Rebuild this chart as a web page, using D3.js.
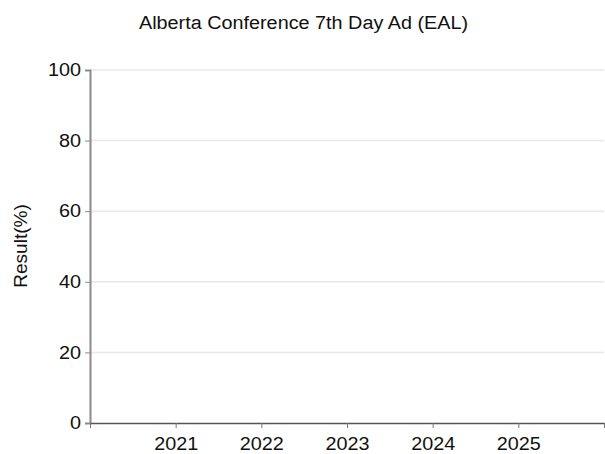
<!DOCTYPE html>
<html><head><meta charset="utf-8">
<script src="https://cdn.jsdelivr.net/npm/d3@7"></script>
<style>body{margin:0;background:#fff;font-family:"Liberation Sans",Arial,sans-serif;}</style>
</head><body><svg id="c" width="605" height="454"></svg>
<script>
const title = "Alberta Conference 7th Day Ad (EAL)";
const yLabel = "Result(%)";
const xDomain = [2020, 2026];
const xTicks = [2020, 2021, 2022, 2023, 2024, 2025, 2026];
const xTickLabels = ["", "2021", "2022", "2023", "2024", "2025", ""];
const yTicks = [0, 20, 40, 60, 80, 100];
const years = [];
const values = [];

const svg = d3.select("#c");
const m = {l: 90, r: 1, t: 70, b: 31};
const W = 605, H = 454;
const FS = 18, STRETCH = 1.1;
const x = d3.scaleLinear().domain(xDomain).range([m.l, W - m.r]);
const y = d3.scaleLinear().domain([0, 100]).range([H - m.b, m.t]);

function stretch(sel, k) {
  sel.each(function() {
    const t = this;
    if (!t.textContent) return;
    const L = t.getComputedTextLength();
    d3.select(t).attr("textLength", L * k).attr("lengthAdjust", "spacingAndGlyphs");
  });
}

// grid
svg.append("g").selectAll("line").data(yTicks.filter(d => d > 0)).join("line")
  .attr("x1", m.l).attr("x2", W - m.r)
  .attr("y1", d => y(d)).attr("y2", d => y(d))
  .attr("stroke", "#e8e8e8").attr("stroke-width", 1.5);

// y axis
const ya = svg.append("g").attr("transform", `translate(${m.l},0)`)
  .call(d3.axisLeft(y).tickValues(yTicks).tickSize(5).tickPadding(4));
ya.select(".domain").attr("stroke", "#8a8a8a").attr("stroke-width", 2);
ya.selectAll(".tick line").attr("stroke", "#8a8a8a");
ya.selectAll("text").attr("font-size", FS).attr("fill", "#111").attr("font-family", "Liberation Sans, Arial");
stretch(ya.selectAll("text"), STRETCH);

// x axis
const xa = svg.append("g").attr("transform", `translate(0,${y(0)})`)
  .call(d3.axisBottom(x).tickValues(xTicks).tickFormat((d, i) => xTickLabels[i]).tickSize(5).tickPadding(9).tickSizeOuter(0));
xa.select(".domain").attr("stroke", "#555").attr("stroke-width", 1.5);
xa.selectAll(".tick line").attr("stroke", "#777");
xa.selectAll("text").attr("font-size", FS).attr("fill", "#111").attr("font-family", "Liberation Sans, Arial");
stretch(xa.selectAll("text"), STRETCH);

// data (none)
svg.append("g").selectAll("circle").data(values).join("circle")
  .attr("cx", (d, i) => x(years[i])).attr("cy", d => y(d)).attr("r", 3);

// title
const tt = svg.append("text").attr("x", 303.5).attr("y", 29).attr("text-anchor", "middle")
  .attr("font-size", FS).attr("fill", "#111").text(title);
stretch(tt, STRETCH);

// y label
const yl = svg.append("text").attr("transform", `translate(27,246) rotate(-90)`)
  .attr("text-anchor", "middle").attr("font-size", FS).attr("fill", "#111").text(yLabel);
stretch(yl, 1.06);
</script></body></html>
